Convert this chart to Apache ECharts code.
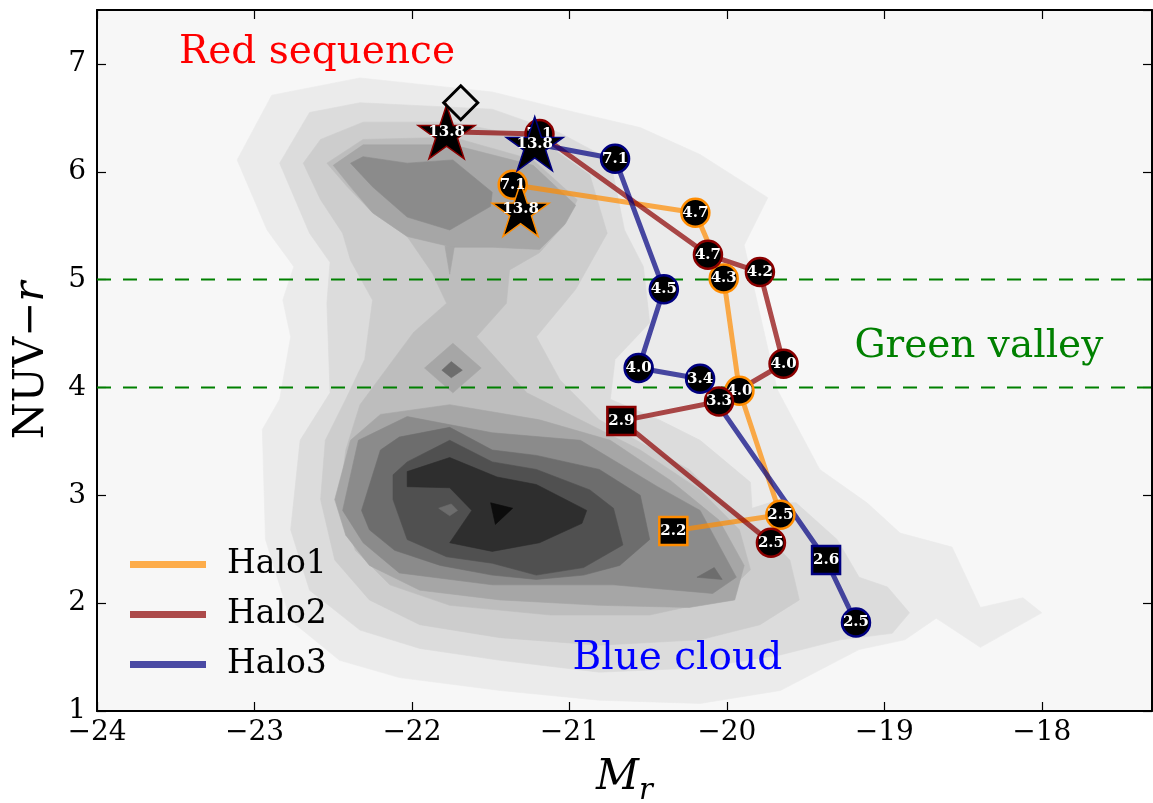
<!DOCTYPE html>
<html><head><meta charset="utf-8">
<script src="https://cdn.jsdelivr.net/npm/echarts@6/dist/echarts.min.js"></script>
<style>html,body{margin:0;padding:0;background:#fff}#c{width:1153px;height:803px}</style>
</head><body><div id="c"></div>
<script>
// ---------------- data ----------------
const xRange = [-24, -17.3];
const yRange = [1, 7.5];
const xTicks = [-24, -23, -22, -21, -20, -19, -18];
const yTicks = [1, 2, 3, 4, 5, 6, 7];

const seriesNames = ['Halo1', 'Halo2', 'Halo3'];

const halo1Points = [[-21.31,5.65],[-21.36,5.88],[-20.20,5.62],[-20.02,5.01],[-19.92,3.97],[-19.66,2.82],[-20.34,2.67]];
const halo1Labels = ['13.8','7.1','4.7','4.3','4.0','2.5','2.2'];
const halo1Kinds  = ['star','circle','circle','circle','circle','circle','square'];

const halo2Points = [[-21.78,6.37],[-21.19,6.35],[-20.12,5.23],[-19.79,5.07],[-19.64,4.22],[-20.05,3.87],[-20.67,3.69],[-19.72,2.56]];
const halo2Labels = ['13.8','7.1','4.7','4.2','4.0','3.3','2.9','2.5'];
const halo2Kinds  = ['star','circle','circle','circle','circle','circle','square','circle'];

const halo3Points = [[-21.22,6.26],[-20.71,6.12],[-20.40,4.91],[-20.56,4.18],[-20.17,4.08],[-19.37,2.40],[-19.18,1.82]];
const halo3Labels = ['13.8','7.1','4.5','4.0','3.4','2.6','2.5'];
const halo3Kinds  = ['star','circle','circle','circle','circle','square','circle'];

const diamondPoint = [[-21.69, 6.64]];

const valleyLines = [4, 5];

const annotations = [
  {text: 'Red sequence', pos: [-23.48, 7.10], color: '#ff0000'},
  {text: 'Green valley', pos: [-19.19, 4.38], color: '#008000'},
  {text: 'Blue cloud',   pos: [-20.98, 1.48], color: '#0000ff'}
];

// density contours (filled levels, outer -> inner), data coordinates
const contourL1 = [[-20.96,6.55],[-20.55,6.41],[-20.17,6.16],[-19.74,5.76],[-19.89,5.32],[-19.68,3.98],[-19.41,3.24],[-19.11,2.93],[-18.90,2.65],[-18.57,2.52],[-18.39,1.96],[-18.12,2.05],[-18.00,1.91],[-18.39,1.59],[-18.67,1.86],[-18.87,1.66],[-19.16,1.57],[-19.66,1.19],[-20.17,1.07],[-20.81,1.10],[-21.44,1.19],[-22.08,1.31],[-22.46,1.47],[-22.77,1.84],[-22.93,2.59],[-22.95,3.61],[-22.84,3.89],[-22.77,4.47],[-22.82,4.81],[-22.75,5.12],[-22.92,5.46],[-23.11,6.11],[-22.89,6.71],[-22.33,6.87],[-21.49,6.74]];
const contourL2 = [[-22.84,6.08],[-22.65,6.55],[-22.33,6.64],[-21.49,6.58],[-21.06,6.36],[-20.74,6.11],[-20.65,5.46],[-20.53,5.12],[-20.49,4.60],[-20.71,4.26],[-20.74,3.89],[-20.43,3.70],[-20.17,3.51],[-19.85,3.12],[-19.84,2.88],[-19.73,2.93],[-19.56,2.93],[-19.30,2.59],[-19.16,2.24],[-18.98,2.15],[-18.84,1.91],[-18.95,1.72],[-19.28,1.66],[-19.66,1.52],[-20.17,1.40],[-20.81,1.36],[-21.44,1.47],[-21.95,1.58],[-22.33,1.75],[-22.65,2.12],[-22.77,2.68],[-22.71,3.51],[-22.52,3.95],[-22.54,4.78],[-22.52,5.16],[-22.65,5.43]];
const contourL3 = [[-22.69,6.08],[-22.58,6.30],[-22.31,6.46],[-21.74,6.46],[-21.19,6.30],[-20.87,5.97],[-20.76,5.43],[-20.96,4.91],[-21.21,4.47],[-21.06,4.07],[-20.81,3.70],[-20.24,3.24],[-20.05,2.96],[-19.79,2.68],[-19.60,2.40],[-19.54,2.03],[-19.79,1.80],[-20.17,1.66],[-20.81,1.61],[-21.44,1.68],[-21.95,1.80],[-22.27,2.03],[-22.49,2.40],[-22.58,2.96],[-22.55,3.51],[-22.42,3.89],[-22.30,4.26],[-22.25,4.81],[-22.39,5.18],[-22.44,5.43],[-22.58,5.74]];
const contourL4 = [[-22.54,6.08],[-22.31,6.30],[-21.74,6.32],[-21.23,6.11],[-20.95,5.74],[-21.02,5.53],[-21.19,5.25],[-21.38,5.09],[-21.40,4.78],[-21.59,4.47],[-21.27,3.95],[-20.93,3.70],[-20.55,3.42],[-20.17,3.05],[-19.92,2.68],[-19.85,2.31],[-20.05,2.03],[-20.49,1.89],[-21.12,1.89],[-21.76,1.98],[-22.14,2.17],[-22.36,2.49],[-22.46,2.96],[-22.42,3.42],[-22.33,3.84],[-21.99,4.51],[-21.78,4.78],[-21.87,5.06],[-22.03,5.40],[-22.25,5.62],[-22.41,5.86]];
const contourL5a = [[-22.50,6.06],[-22.31,6.25],[-21.74,6.25],[-21.23,6.06],[-20.96,5.69],[-21.03,5.51],[-21.19,5.28],[-21.49,5.30],[-21.74,5.30],[-22.03,5.40],[-22.25,5.62],[-22.39,5.86]];
const contourL5b = [[-22.49,2.96],[-22.39,3.51],[-22.20,3.75],[-21.76,3.84],[-21.19,3.70],[-20.74,3.51],[-20.36,3.14],[-20.05,2.77],[-19.89,2.35],[-19.95,2.03],[-20.24,1.96],[-20.81,1.98],[-21.44,2.03],[-21.95,2.12],[-22.27,2.35],[-22.42,2.63]];
const contourL5c = [[-21.92,4.18],[-21.74,4.41],[-21.56,4.18],[-21.74,3.95]];
const contourL5d = [[-21.79,5.31],[-21.76,5.05],[-21.73,5.31]];
const contourL6a = [[-22.39,6.08],[-22.31,6.14],[-22.03,6.08],[-21.74,6.11],[-21.49,5.81],[-21.50,5.68],[-21.76,5.46],[-22.03,5.58],[-22.25,5.86]];
const contourL6b = [[-22.44,2.86],[-22.34,3.51],[-22.03,3.73],[-21.49,3.58],[-20.93,3.51],[-20.44,3.08],[-20.17,2.86],[-19.94,2.24],[-20.09,2.09],[-20.72,2.17],[-21.49,2.17],[-22.08,2.28],[-22.31,2.56]];
const contourL7a = [[-22.32,2.86],[-22.20,3.42],[-22.08,3.54],[-21.76,3.63],[-21.49,3.42],[-21.21,3.37],[-20.81,3.24],[-20.55,3.00],[-20.49,2.59],[-20.68,2.35],[-20.91,2.26],[-21.21,2.22],[-21.49,2.26],[-21.82,2.35],[-22.11,2.49],[-22.27,2.68]];
const contourL7b = [[-20.19,2.24],[-20.08,2.33],[-20.03,2.22]];
const contourL7c = [[-21.81,4.16],[-21.75,4.24],[-21.68,4.16],[-21.75,4.09]];
const contourL8 = [[-22.12,3.19],[-22.03,3.31],[-21.76,3.51],[-21.49,3.31],[-21.21,3.24],[-20.87,3.05],[-20.72,2.88],[-20.66,2.54],[-20.91,2.33],[-21.21,2.26],[-21.49,2.37],[-21.78,2.43],[-22.03,2.59],[-22.12,2.96]];
const contourL9 = [[-22.03,3.22],[-21.76,3.35],[-21.46,3.17],[-21.21,3.10],[-20.89,2.86],[-20.92,2.74],[-21.19,2.56],[-21.49,2.48],[-21.76,2.56],[-21.62,2.86],[-21.76,3.07],[-22.03,3.08]];
const contourL7d = [[-21.83,2.88],[-21.75,2.92],[-21.71,2.86],[-21.76,2.81]];
const contourL10 = [[-21.50,2.93],[-21.36,2.88],[-21.47,2.73]];

const contourPolys = [
  [1, contourL1], [2, contourL2], [3, contourL3], [4, contourL4],
  [5, contourL5a], [5, contourL5b], [5, contourL5c], [5, contourL5d],
  [6, contourL6a], [6, contourL6b],
  [7, contourL7a], [7, contourL7b], [7, contourL7c],
  [8, contourL8], [9, contourL9], [7, contourL7d], [10, contourL10]
];

// ---------------- styles ----------------
const FONT = 'DejaVu Serif';
const levelColors = ['#f7f7f7','#ebebeb','#dcdcdc','#cdcdcd','#bdbdbd','#a6a6a6','#8b8b8b','#6d6d6d','#505050','#2e2e2e','#0c0c0c'];
const lineColors = ['rgba(255,140,0,0.7)','rgba(139,0,0,0.7)','rgba(0,0,128,0.7)'];
const edgeColors = ['#ff8c00','#8b0000','#000080'];
const STAR = 'path://M0,-1L0.2245,-0.309L0.951,-0.309L0.3633,0.118L0.588,0.809L0,0.382L-0.588,0.809L-0.3633,0.118L-0.951,-0.309L-0.2245,-0.309Z';

const minus = v => (v < 0 ? '\u2212' + Math.abs(v) : String(v));

const halos = [
  [halo1Points, halo1Labels, halo1Kinds],
  [halo2Points, halo2Labels, halo2Kinds],
  [halo3Points, halo3Labels, halo3Kinds]
];

const series = [];

series.push({
  type: 'custom', name: 'density', z: 0, silent: true, clip: true,
  data: contourPolys.map((p, i) => [xRange[0], yRange[0], i]),
  renderItem: (params, api) => {
    const poly = contourPolys[api.value(2)];
    const col = levelColors[poly[0]];
    return {type: 'polygon', shape: {points: poly[1].map(pt => api.coord(pt))},
            style: {fill: col, stroke: col, lineWidth: 0.6}};
  }
});

valleyLines.forEach(v => {
  series.push({
    type: 'line', name: 'valley' + v, z: 1, silent: true, symbol: 'none',
    data: [[xRange[0], v], [xRange[1], v]],
    lineStyle: {color: '#008000', width: 2, type: [14, 12]}
  });
});

halos.forEach((h, k) => {
  series.push({
    type: 'line', name: seriesNames[k], z: 2, symbol: 'none', silent: true,
    color: lineColors[k],
    data: h[0],
    lineStyle: {color: lineColors[k], width: 5}
  });
});

halos.forEach((h, k) => {
  const items = h[0].map((p, i) => ({p, lab: h[1][i], kind: h[2][i]}));
  const ordered = items.filter(d => d.kind !== 'star').concat(items.filter(d => d.kind === 'star'));
  series.push({
    type: 'scatter', name: seriesNames[k] + ' markers', z: 3 + k, silent: true,
    data: ordered.map(d => {
      const o = {value: d.p};
      if (d.kind === 'star') { o.symbol = STAR; o.symbolSize = [57, 54]; o.itemStyle = {color: '#000', borderColor: edgeColors[k], borderWidth: 1.5, opacity: 1}; }
      else if (d.kind === 'square') { o.symbol = 'rect'; o.symbolSize = 28; o.itemStyle = {color: '#000', borderColor: edgeColors[k], borderWidth: 2.5, opacity: 1}; }
      else { o.symbol = 'circle'; o.symbolSize = 28; o.itemStyle = {color: '#000', borderColor: edgeColors[k], borderWidth: 2.5, opacity: 1}; }
      o.label = {show: true, formatter: d.lab};
      return o;
    }),
    itemStyle: {opacity: 1},
    label: {show: true, position: 'inside', color: '#fff', fontFamily: FONT, fontWeight: 'bold', fontSize: 15}
  });
});

series.push({
  type: 'scatter', name: 'diamond', z: 7, silent: true,
  symbol: 'diamond', symbolSize: 34,
  itemStyle: {color: 'rgba(0,0,0,0)', borderColor: '#000', borderWidth: 3, opacity: 1},
  data: diamondPoint
});

series.push({
  type: 'scatter', name: 'annotations', z: 8, silent: true, symbolSize: 0,
  itemStyle: {opacity: 1},
  data: annotations.map(a => ({value: a.pos, label: {show: true, formatter: a.text, color: a.color}})),
  label: {show: true, position: [0, 0], align: 'left', verticalAlign: 'middle', fontFamily: FONT, fontSize: 39}
});

const axisCommon = {
  type: 'value', splitLine: {show: false},
  axisLine: {show: true, onZero: false, lineStyle: {color: '#000', width: 2}},
  axisTick: {show: true, inside: true, length: 9, lineStyle: {color: '#000', width: 1.2}}
};

const option = {
  animation: false,
  backgroundColor: '#ffffff',
  grid: {left: 97, right: 1, top: 10, bottom: 92, show: true, backgroundColor: levelColors[0], borderWidth: 0,
         containLabel: false, outerBoundsMode: 'none'},
  legend: {
    data: seriesNames, orient: 'vertical', left: 125, top: 543,
    icon: 'rect', itemWidth: 76, itemHeight: 7, itemGap: 17,
    textStyle: {fontFamily: FONT, fontSize: 33, color: '#000', padding: [0, 0, 0, 16]}
  },
  xAxis: [
    Object.assign({}, axisCommon, {
      min: xRange[0], max: xRange[1], interval: 1, position: 'bottom',
      axisLabel: {fontFamily: FONT, fontSize: 28, color: '#000', margin: 8, showMaxLabel: false,
                  formatter: v => (xTicks.includes(v) ? minus(v) : '')},
      name: '{m|M}{s|r}', nameLocation: 'middle', nameGap: 46,
      nameTextStyle: {rich: {
        m: {fontFamily: FONT, fontStyle: 'italic', fontSize: 42, color: '#000', verticalAlign: 'top', lineHeight: 42},
        s: {fontFamily: FONT, fontStyle: 'italic', fontSize: 29, color: '#000', verticalAlign: 'top', lineHeight: 29, padding: [20, 0, 0, 0]}
      }}
    }),
    Object.assign({}, axisCommon, {
      min: xRange[0], max: xRange[1], interval: 1, position: 'top', axisLabel: {show: false}
    })
  ],
  yAxis: [
    Object.assign({}, axisCommon, {
      min: yRange[0], max: yRange[1], interval: 1, position: 'left',
      axisLabel: {fontFamily: FONT, fontSize: 28, color: '#000', margin: 11, showMaxLabel: false,
                  formatter: v => (yTicks.includes(v) ? minus(v) : '')},
      name: '{n|NUV\u2212}{r|r}', nameLocation: 'middle', nameGap: 44, nameRotate: 90,
      nameTextStyle: {rich: {
        n: {fontFamily: FONT, fontSize: 42, color: '#000'},
        r: {fontFamily: FONT, fontStyle: 'italic', fontSize: 42, color: '#000'}
      }}
    }),
    Object.assign({}, axisCommon, {
      min: yRange[0], max: yRange[1], interval: 1, position: 'right', axisLabel: {show: false}
    })
  ],
  series
};

const chart = echarts.init(document.getElementById('c'), null, {renderer: 'canvas'});
chart.setOption(option);
</script>
</body></html>
